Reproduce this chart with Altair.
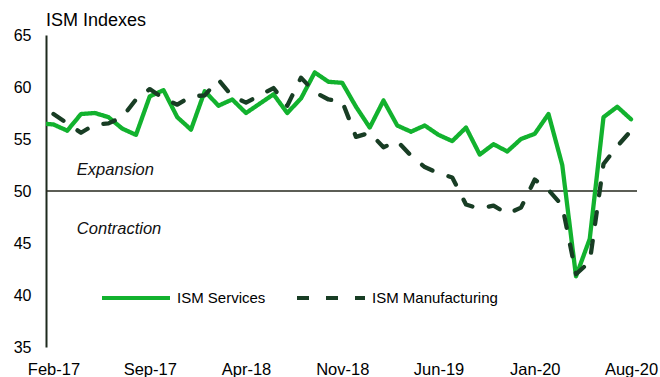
import altair as alt
import pandas as pd

# ---- data ----
months = [d.strftime("%b-%y") for d in pd.date_range("2017-01-01", "2020-08-01", freq="MS")]

services = [
    56.5,                                                  # Jan-17 (clipped at axis)
    56.4, 55.8, 57.4, 57.5, 57.1, 56.0, 55.4, 59.1, 59.7, 57.1, 55.9,   # Feb-17..Dec-17
    59.6, 58.2, 58.8, 57.5, 58.4, 59.3, 57.5, 58.9, 61.4, 60.5, 60.4, 58.1,  # 2018
    56.1, 58.7, 56.3, 55.7, 56.3, 55.4, 54.8, 56.1, 53.5, 54.5, 53.8, 55.0,  # 2019
    55.5, 57.4, 52.5, 41.8, 45.4, 57.1, 58.1, 56.9,                    # 2020
]

manufacturing = [
    None,
    57.4, 56.5, 55.6, 56.4, 56.5, 57.1, 58.8, 59.8, 58.9, 58.3, 59.1,
    59.2, 60.7, 59.1, 58.5, 59.2, 59.9, 58.2, 60.9, 59.5, 58.8, 58.6, 55.2,
    55.6, 54.2, 54.8, 53.4, 52.3, 51.7, 51.3, 48.7, 48.3, 48.6, 47.8, 48.4,
    51.1, 50.1, 48.6, 42.0, 43.2, 52.6, 54.3, 55.8,
]

series_names = ["ISM Services", "ISM Manufacturing"]
series_colors = ["#12B22E", "#183D24"]
tick_months = ["Feb-17", "Sep-17", "Apr-18", "Nov-18", "Jun-19", "Jan-20", "Aug-20"]
y_ticks = [35, 40, 45, 50, 55, 60, 65]
threshold = [50]
ann_labels = ["Expansion", "Contraction"]
ann_idx = [2.7, 2.7]
ann_values = [52.0, 46.35]

# ---- build table ----
rows = []
for i, m in enumerate(months):
    rows.append({"idx": i, "month": m, "series": series_names[0], "value": services[i]})
    if manufacturing[i] is not None:
        rows.append({"idx": i, "month": m, "series": series_names[1], "value": manufacturing[i]})
df = pd.DataFrame(rows)

tick_idx = [months.index(m) for m in tick_months]
label_expr = "[" + ",".join("'%s'" % m for m in months) + "][datum.value]"

FONT = "Liberation Sans"

x_scale = alt.Scale(domain=[0.455, 43.436], nice=False, zero=False)
y_scale = alt.Scale(domain=[35, 65], nice=False, zero=False)

x_enc = alt.X(
    "idx:Q", scale=x_scale,
    axis=alt.Axis(values=tick_idx, labelExpr=label_expr, title=None, domain=False,
                  ticks=False, tickSize=0, grid=False, labelFontSize=16.5, labelFont=FONT,
                  labelColor="#000000", labelPadding=14, labelFlush=False, labelOverlap=False),
)
y_enc = alt.Y(
    "value:Q", scale=y_scale,
    axis=alt.Axis(values=y_ticks, title=None, grid=False, ticks=False, tickSize=0,
                  domainColor="#1E2A1E", domainWidth=2, labelFontSize=16, labelFont=FONT,
                  labelColor="#000000", labelPadding=15),
)

legend = alt.Legend(
    title=None, orient="none", legendX=54, legendY=227, direction="horizontal",
    symbolType="stroke", symbolSize=4624, symbolStrokeWidth=4, labelFontSize=15,
    labelFont=FONT, labelColor="#000000", labelOffset=5, columnPadding=23,
)

lines = alt.Chart(df).mark_line(clip=True, strokeWidth=4.3, strokeCap="round", strokeJoin="round").encode(
    x=x_enc,
    y=y_enc,
    color=alt.Color("series:N", scale=alt.Scale(domain=series_names, range=series_colors), legend=legend),
    strokeDash=alt.StrokeDash("series:N", scale=alt.Scale(domain=series_names, range=[[1, 0], [12, 17]]),
                              legend=legend),
    order=alt.Order("idx:Q"),
)

rule = alt.Chart(pd.DataFrame({"y": threshold})).mark_rule(color="#26281E", strokeWidth=1.5).encode(
    y=alt.Y("y:Q", scale=y_scale)
)

ann = alt.Chart(pd.DataFrame({"label": ann_labels, "idx": ann_idx, "value": ann_values})).mark_text(
    align="left", baseline="middle", fontSize=16.5, fontStyle="italic", font=FONT, color="#111111"
).encode(
    x=alt.X("idx:Q", scale=x_scale),
    y=alt.Y("value:Q", scale=y_scale),
    text="label:N",
)

chart = alt.layer(rule, lines, ann).properties(
    width=591, height=312,
    background="white",
    title=alt.TitleParams("ISM Indexes", anchor="start", frame="group", fontSize=18, font=FONT,
                          fontWeight="normal", color="#000000", offset=8, baseline="alphabetic",
                          dy=25),
    autosize=alt.AutoSizeParams(type="none"),
    padding={"left": 46, "top": 35, "right": 23, "bottom": 30},
).configure_view(strokeWidth=0)

chart.save("out.html", embed_options={"renderer": "svg", "actions": False})
